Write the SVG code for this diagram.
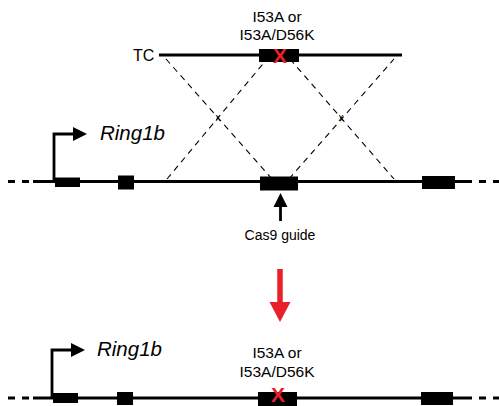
<svg xmlns="http://www.w3.org/2000/svg" width="499" height="406" viewBox="0 0 499 406">
  <style>
    .lbl { font-family: "Liberation Sans", Arial, sans-serif; fill: #000; }
    .gene { font-family: "Liberation Sans", Arial, sans-serif; font-style: italic; font-size: 20.5px; fill: #000; }
    .mut { font-family: "Liberation Sans", Arial, sans-serif; font-weight: bold; font-size: 21px; fill: #e8202a; }
    .dna { stroke: #000; stroke-width: 2.8; fill: none; }
    .dnaDash { stroke: #000; stroke-width: 2.8; fill: none; stroke-dasharray: 7 7; }
    .cross { stroke: #000; stroke-width: 1.1; fill: none; stroke-dasharray: 6 5; }
    .exon { fill: #000; }
    .prom { stroke: #000; stroke-width: 2.8; fill: none; }
  </style>

  <!-- targeting construct -->
  <g id="tc">
    <text class="lbl" x="133" y="61" font-size="16">TC</text>
    <line class="dna" x1="159" y1="55" x2="402" y2="55"/>
    <rect class="exon" x="259" y="49" width="40" height="13"/>
    <text class="mut" x="280" y="63" text-anchor="middle">X</text>
    <text class="lbl" x="277" y="22" font-size="15.5" text-anchor="middle">I53A or</text>
    <text class="lbl" x="277" y="39.5" font-size="15.5" text-anchor="middle">I53A/D56K</text>
  </g>

  <!-- homology arm crossovers -->
  <g id="connectors">
    <line class="cross" x1="166" y1="59" x2="272" y2="179"/>
    <line class="cross" x1="167" y1="179" x2="267" y2="59"/>
    <line class="cross" x1="290" y1="59" x2="394" y2="179"/>
    <line class="cross" x1="289" y1="179" x2="394" y2="59"/>
    <text class="lbl" x="218" y="121" font-size="10" text-anchor="middle">x</text>
    <text class="lbl" x="341" y="121" font-size="10" text-anchor="middle">x</text>
  </g>

  <!-- wild-type locus -->
  <g id="locus-wt">
    <line class="dnaDash" x1="8" y1="181.5" x2="33" y2="181.5"/>
    <line class="dna" x1="33" y1="181.5" x2="472" y2="181.5"/>
    <line class="dnaDash" x1="479" y1="181.5" x2="499" y2="181.5"/>
    <rect class="exon" x="55" y="177.5" width="25" height="9.5"/>
    <rect class="exon" x="118" y="175.5" width="16" height="14"/>
    <rect class="exon" x="260" y="176.5" width="38" height="14"/>
    <rect class="exon" x="422" y="176" width="33" height="13"/>
    <polyline class="prom" points="54,181 54,134 74,134"/>
    <path d="M73,127 L87,134 L73,141 z" fill="#000"/>
    <text class="gene" x="100" y="140">Ring1b</text>
  </g>

  <!-- Cas9 guide -->
  <g id="guide">
    <line x1="280.5" y1="221" x2="280.5" y2="205" stroke="#000" stroke-width="2.8"/>
    <path d="M273.5,207 L280.5,193 L287.5,207 z" fill="#000"/>
    <text class="lbl" x="280" y="240" font-size="14" text-anchor="middle">Cas9 guide</text>
  </g>

  <!-- recombination result arrow -->
  <g id="result-arrow">
    <line x1="280" y1="269" x2="280" y2="304" stroke="#e8202a" stroke-width="5.5"/>
    <path d="M269.5,302 L280,322 L290.5,302 z" fill="#e8202a"/>
  </g>

  <!-- mutant locus -->
  <g id="locus-mut">
    <line class="dnaDash" x1="8" y1="398" x2="33" y2="398"/>
    <line class="dna" x1="33" y1="398" x2="472" y2="398"/>
    <line class="dnaDash" x1="479" y1="398" x2="499" y2="398"/>
    <rect class="exon" x="53" y="393" width="25" height="10"/>
    <rect class="exon" x="117" y="392" width="16" height="13"/>
    <rect class="exon" x="258" y="392" width="39" height="14"/>
    <text class="mut" x="278" y="402" font-size="17" text-anchor="middle">X</text>
    <rect class="exon" x="421" y="392" width="32" height="13"/>
    <polyline class="prom" points="52,398 52,350 72,350"/>
    <path d="M71,343 L85,350 L71,357 z" fill="#000"/>
    <text class="gene" x="97" y="356">Ring1b</text>
    <text class="lbl" x="277" y="358" font-size="15.5" text-anchor="middle">I53A or</text>
    <text class="lbl" x="277" y="377" font-size="15.5" text-anchor="middle">I53A/D56K</text>
  </g>
</svg>
